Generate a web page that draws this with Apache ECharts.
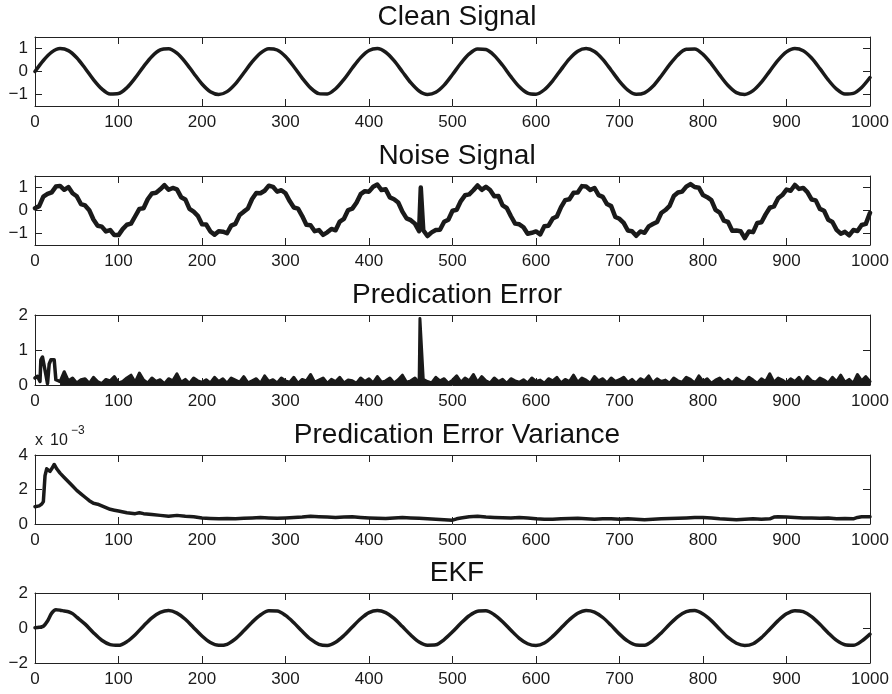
<!DOCTYPE html>
<html>
<head>
<meta charset="utf-8">
<script src="https://cdn.jsdelivr.net/npm/echarts@6/dist/echarts.min.js"></script>
<style>
html,body{margin:0;padding:0;background:#fff;}
#chart{width:892px;height:694px;}
</style>
</head>
<body>
<div id="chart"></div>
<script>
// ---------------- data ----------------
const titles = ['Clean Signal', 'Noise Signal', 'Predication Error', 'Predication Error Variance', 'EKF'];
const xTicks = [0, 100, 200, 300, 400, 500, 600, 700, 800, 900, 1000];

// Clean signal, samples every 10 steps from t = 0
const cleanStep = 10;
const cleanSignal = [0, .479, .841, .997, .909, .598, .141, -.351, -.757, -.978, -.959, -.706, -.279, .215, .657, .938, .989, .798, .412, -.075, -.544, -.880, -1.000, -.875, -.537, -.066, .420, .804, .991, .935, .650, .206, -.288, -.712, -.961, -.977, -.751, -.342, .150, .605, .913, .997, .837, .471, -.009, -.487, -.846, -.998, -.906, -.591, -.132, .359, .763, .980, .956, .700, .271, -.224, -.664, -.941, -.988, -.793, -.404, .084, .551, .884, 1.000, .871, .530, .057, -.428, -.809, -.992, -.932, -.644, -.197, .296, .718, .963, .975, .745, .334, -.158, -.612, -.917, -.996, -.832, -.464, .018, .494, .851, .998, .902, .584, .124, -.367, -.768, -.982, -.953, -.694, -.262];

// Noise signal, samples every 5 steps from t = 0, plus the outlier spike
const noiseStep = 5;
const noiseSignal = [
  .10, .19, .60, .72, .79, 1.04, 1.07, .90, 1.02, .75, .62, .28, .22, .01, -.39, -.66, -.70, -.91, -.85, -1.07,
  -1.07, -.81, -.62, -.57, -.25, .07, .10, .49, .74, .77, .92, 1.10, .90, .98, .92, .58, .48, .07, -.05, -.23,
  -.60, -.61, -.91, -1.05, -.90, -.92, -.99, -.66, -.58, -.20, -.05, .09, .50, .76, .75, .86, 1.08, 1.03, .82, .88,
  .75, .41, .13, .08, -.24, -.62, -.64, -.90, -.85, -1.06, -.95, -.80, -.86, -.48, -.36, .02, .08, .34, .71, .84,
  .82, 1.03, 1.13, .89, .92, .57, .49, .35, -.05, -.34, -.42, -.57, -.90, -.86, -1.11, -.95, -.85, -.84, -.49, -.40,
  -.01, .03, .41, .66, .70, .88, 1.09, .90, 1.03, .89, .62, .63, .22, .11, -.25, -.57, -.60, -.73, -1.01, -.97,
  -.91, -1.04, -.68, -.66, -.35, -.26, .15, .45, .49, .77, .78, 1.06, 1.04, .89, .98, .67, .59, .28, .19, -.28,
  -.36, -.54, -.87, -.90, -1.10, -.91, -.97, -.69, -.59, -.50, -.11, .02, .20, .63, .78, .82, 1.04, 1.15, 1.02, .99,
  .67, .58, .45, .03, -.09, -.44, -.50, -.88, -.87, -.90, -1.20, -.91, -.94, -.54, -.51, -.17, .12, .18, .53, .67,
  .91, .86, 1.11, .94, .98, .80, .48, .44, .07, -.01, -.40, -.50, -.84, -1.01, -.93, -1.08, -.85, -.89, -.63, -.58,
  -.10];
const noiseSpike = [[462, 1.0]];

// Prediction error: first samples, then every 5 steps from t = 30, plus the spike
const errorEarly = [[0, .20], [3, .25], [6, .10], [7, .72], [9, .80], [11, .78], [13, .30], [15, .04], [17, .60], [19, .72], [21, .70], [23, .72], [25, .15], [27, .20], [30, .10]];
const errorStart = 30;
const errorStep = 5;
const predError = [
  .10, .38, .12, .20, .06, .15, .18, .05, .22, .10, .04, .16, .12, .24, .06, .10, .20, .28, .08, .34,
  .14, .06, .20, .10, .15, .04, .18, .12, .32, .08, .16, .05, .20, .12, .08, .15, .06, .22, .10, .18,
  .05, .20, .14, .08, .24, .06, .12, .18, .05, .26, .10, .15, .06, .20, .12, .08, .22, .05, .16, .12,
  .30, .08, .14, .20, .05, .16, .10, .22, .06, .14, .12, .05, .20, .10, .18, .06, .24, .08, .12, .20,
  .06, .15, .28, .08, .12, .20, .05, .16, .10, .06, .22, .12, .18, .05, .14, .26, .08, .20, .12, .30,
  .08, .24, .12, .06, .20, .10, .16, .05, .18, .12, .08, .15, .06, .20, .10, .14, .05, .18, .12, .22,
  .06, .16, .10, .28, .08, .20, .14, .05, .24, .12, .18, .06, .20, .10, .15, .22, .08, .16, .05, .18,
  .12, .26, .06, .18, .10, .14, .05, .20, .12, .08, .22, .16, .06, .26, .10, .18, .05, .14, .20, .08,
  .16, .06, .20, .12, .08, .22, .14, .05, .18, .10, .32, .08, .20, .14, .06, .18, .10, .22, .05, .24,
  .12, .08, .20, .14, .06, .22, .10, .28, .08, .16, .05, .30, .12, .24, .10];
const errorSpike = [[461, 1.9], [463, 1.9]];

// Prediction error variance (values in units of 1e-3)
const varianceT = [0, 5, 8, 10, 12, 14, 16, 18, 20, 23, 26, 30, 35, 40, 45, 50, 55, 60, 65, 70, 75, 80, 85, 90, 95, 100, 110, 120, 125, 130, 140, 150, 160, 170, 180, 190, 200, 210, 220, 230, 240, 250, 260, 270, 280, 290, 300, 310, 320, 330, 340, 350, 360, 370, 380, 390, 400, 410, 420, 430, 440, 450, 460, 470, 480, 490, 500, 505, 510, 520, 530, 540, 550, 560, 570, 580, 590, 600, 610, 620, 630, 640, 650, 660, 670, 680, 690, 700, 710, 720, 730, 740, 750, 760, 770, 780, 790, 800, 810, 820, 830, 840, 850, 860, 870, 880, 885, 890, 900, 910, 920, 930, 940, 950, 960, 970, 980, 985, 990, 1000];
const varianceE3 = [1.0, 1.05, 1.15, 1.3, 2.8, 3.2, 3.15, 3.05, 3.2, 3.45, 3.2, 2.95, 2.7, 2.45, 2.2, 1.95, 1.75, 1.55, 1.35, 1.2, 1.15, 1.05, .95, .85, .8, .75, .65, .6, .65, .6, .55, .5, .45, .5, .45, .42, .35, .32, .3, .32, .3, .33, .35, .38, .35, .33, .35, .38, .4, .45, .42, .4, .38, .4, .42, .38, .35, .33, .32, .35, .38, .35, .33, .3, .28, .25, .22, .3, .35, .42, .45, .4, .38, .36, .35, .38, .35, .3, .28, .28, .3, .32, .33, .3, .28, .3, .3, .28, .3, .28, .25, .27, .3, .32, .33, .35, .37, .38, .35, .3, .27, .25, .28, .3, .28, .3, .4, .42, .4, .38, .35, .35, .33, .35, .3, .32, .3, .38, .42, .42];

// EKF estimate: first samples, then every 10 steps from t = 50
const ekfEarly = [[0, .02], [5, .04], [10, .10], [15, .40], [20, .85], [25, 1.05], [30, 1.02], [35, .97], [40, .93], [45, .82]];
const ekfStart = 50;
const ekfStep = 10;
const ekfSignal = [.62, .22, -.27, -.70, -.95, -.99, -.78, -.38, .12, .58, .89, 1.0, .85, .50, .02, -.46, -.83, -.99, -.93, -.62, -.16, .33, .74, .98, .97, .72, .30, -.19, -.64, -.93, -1.0, -.82, -.43, .06, .53, .88, 1.0, .88, .55, .08, -.40, -.80, -.98, -.96, -.66, -.22, .27, .70, .96, .98, .76, .36, -.13, -.59, -.90, -1.0, -.86, -.48, 0, .47, .84, 1.0, .91, .60, .15, -.35, -.75, -.97, -.98, -.72, -.28, .21, .65, .93, 1.0, .80, .42, -.07, -.54, -.87, -1.0, -.90, -.55, -.07, .42, .81, .99, .93, .65, .21, -.28, -.71, -.96, -.99, -.75, -.35];

// y-axis settings per panel
const yMins = [-1.5, -1.5, 0, 0, -2];
const yMaxs = [1.5, 1.5, 2, 4, 2];
const yTicks = [[-1, 0, 1], [-1, 0, 1], [0, 1, 2], [0, 2, 4], [-2, 0, 2]];

// ---------------- build option ----------------
const sortByX = arr => arr.slice().sort((a, b) => a[0] - b[0]);
const cleanData = cleanSignal.map((v, i) => [i * cleanStep, v]);
const noiseData = sortByX(noiseSignal.map((v, i) => [i * noiseStep, v]).concat(noiseSpike));
const errorMainData = sortByX(predError.map((v, i) => [errorStart + i * errorStep, v]).concat(errorSpike));
const varianceData = varianceT.map((t, i) => [t, varianceE3[i]]);
const ekfData = ekfEarly.concat(ekfSignal.map((v, i) => [ekfStart + i * ekfStep, v]));
const allData = [cleanData, noiseData, errorMainData, varianceData, ekfData];
const lineWidths = [3.5, 4.5, 3, 3.5, 3.5];
const smoothing = [0.3, false, false, false, 0.3];

const FONT = '"Liberation Sans", Arial, Helvetica, sans-serif';
const AX = '#222';
const LINE = '#1a1a1a';
const tops = [37, 176, 315, 455, 593];
const heights = [69, 69, 70, 69, 70];

const grids = [], xAxes = [], yAxes = [], series = [], titleComps = [];
const fmtNum = v => (v < 0 ? '\u2212' + Math.abs(v) : String(v));

for (let p = 0; p < 5; p++) {
  grids.push({ left: 35, right: 22, top: tops[p], height: heights[p], containLabel: false });
  const xBase = {
    gridIndex: p, type: 'value', min: 0, max: 1000, interval: 100,
    axisLine: { show: true, onZero: false, lineStyle: { color: AX, width: 1 } },
    axisTick: { show: true, inside: true, length: 7, lineStyle: { color: AX, width: 1 } },
    splitLine: { show: false }
  };
  xAxes.push(Object.assign({}, xBase, {
    position: 'bottom',
    axisLabel: { show: true, margin: 8, color: '#1a1a1a', fontSize: 17, fontFamily: FONT,
      customValues: xTicks, formatter: v => String(v) }
  }));
  xAxes.push(Object.assign({}, xBase, { position: 'top', axisLabel: { show: false } }));
  const yBase = {
    gridIndex: p, type: 'value', min: yMins[p], max: yMaxs[p],
    axisLine: { show: true, onZero: false, lineStyle: { color: AX, width: 1 } },
    axisTick: { show: true, inside: true, length: 7, customValues: yTicks[p], lineStyle: { color: AX, width: 1 } },
    splitLine: { show: false }
  };
  yAxes.push(Object.assign({}, yBase, {
    position: 'left',
    axisLabel: { show: true, margin: 7, color: '#1a1a1a', fontSize: 17, fontFamily: FONT,
      customValues: yTicks[p], formatter: fmtNum }
  }));
  yAxes.push(Object.assign({}, yBase, { position: 'right', axisLabel: { show: false } }));
  const s = {
    type: 'line', xAxisIndex: 2 * p, yAxisIndex: 2 * p, data: allData[p],
    showSymbol: false, smooth: smoothing[p], animation: false,
    lineStyle: { color: LINE, width: lineWidths[p], join: 'round', cap: 'round' }
  };
  if (p === 2) s.areaStyle = { color: LINE, opacity: 1 };  // dense error trace reads as a solid band
  series.push(s);
  titleComps.push({
    text: titles[p], left: 452, top: tops[p] - 39, textAlign: 'center',
    textStyle: { fontFamily: FONT, fontSize: 28, fontWeight: 'normal', color: '#111' }
  });
}
// early, un-filled part of the prediction error
series.push({
  type: 'line', xAxisIndex: 4, yAxisIndex: 4, data: errorEarly,
  showSymbol: false, animation: false,
  lineStyle: { color: LINE, width: 3.5, join: 'round', cap: 'round' }
});

const chart = echarts.init(document.getElementById('chart'), null, { renderer: 'canvas' });
chart.setOption({
  backgroundColor: '#fff',
  animation: false,
  title: titleComps,
  grid: grids,
  xAxis: xAxes,
  yAxis: yAxes,
  series: series,
  graphic: [
    { type: 'text', left: 35, top: 433, style: { text: 'x', font: '16px ' + FONT, fill: '#1a1a1a' } },
    { type: 'text', left: 50, top: 433, style: { text: '10', font: '16px ' + FONT, fill: '#1a1a1a' } },
    { type: 'text', left: 71, top: 425, style: { text: '\u22123', font: '12px ' + FONT, fill: '#1a1a1a' } }
  ]
});
</script>
</body>
</html>
